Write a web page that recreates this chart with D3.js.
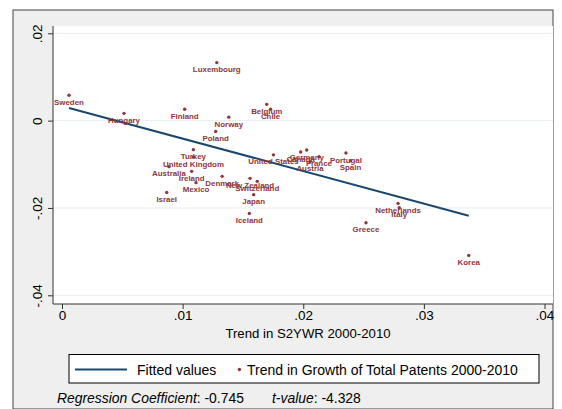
<!DOCTYPE html>
<html><head><meta charset="utf-8">
<script src="https://cdn.jsdelivr.net/npm/d3@7"></script>
<style>
body{margin:0;background:#fff;}
svg{display:block;font-family:"Liberation Sans",Arial,sans-serif;}
</style></head>
<body>
<svg id="c" width="562" height="409"></svg>
<script>
// ---- data ----
const countries = ["Sweden","Hungary","Finland","Luxembourg","Norway","Poland","Belgium","Chile",
  "Turkey","United Kingdom","Australia","Ireland","Mexico","Israel","Denmark","New Zealand",
  "Switzerland","Japan","Iceland","United States","Canada","Germany","France","Austria",
  "Portugal","Spain","Netherlands","Italy","Greece","Korea"];
const s2ywrTrend = [0.00058,0.00514,0.01017,0.01283,0.01383,0.01274,0.01697,0.01729,
  0.01089,0.01090,0.00887,0.01075,0.01111,0.00868,0.01328,0.01559,
  0.01619,0.01589,0.01553,0.01753,0.01979,0.02029,0.02131,0.02056,
  0.02354,0.02392,0.02786,0.02796,0.02520,0.03372];
const patentTrend = [0.0058,0.00167,0.00259,0.01329,0.0008,-0.00247,0.00373,0.00263,
  -0.00664,-0.00836,-0.01054,-0.01161,-0.0142,-0.01643,-0.01276,-0.01322,
  -0.01391,-0.01695,-0.02124,-0.00784,-0.00717,-0.00671,-0.00825,-0.00939,
  -0.0074,-0.00916,-0.01895,-0.01993,-0.02337,-0.03086];
const fittedX = [0.00058, 0.03372];
const fittedY = [0.00291, -0.02178];
const xTicks = [0, 0.01, 0.02, 0.03, 0.04];
const xTickLabels = ["0", ".01", ".02", ".03", ".04"];
const yTicks = [0.02, 0, -0.02, -0.04];
const yTickLabels = [".02", "0", "-.02", "-.04"];
const xTitle = "Trend in S2YWR 2000-2010";
const legendLabels = ["Fitted values", "Trend in Growth of Total Patents 2000-2010"];
const regCoef = "-0.745", tValue = "-4.328";

// ---- drawing ----
const navy = "#1A476F", maroon = "#90353B";
const svg = d3.select("#c");
const plot = {l:53, r:553, t:26, b:304};
const x = d3.scaleLinear().domain([0,0.04]).range([62,544.5]);
const y = d3.scaleLinear().domain([0.02,-0.04]).range([33.3,295.3]);

// graph region
svg.append("rect").attr("x",13).attr("y",10).attr("width",540).attr("height",399)
  .attr("fill","#efefef").attr("stroke","#444").attr("stroke-width",1);
// plot region
svg.append("rect").attr("x",plot.l).attr("y",plot.t).attr("width",plot.r-plot.l).attr("height",plot.b-plot.t)
  .attr("fill","#fff");
// gridlines
svg.append("g").selectAll("line").data(yTicks).join("line")
  .attr("x1",plot.l).attr("x2",plot.r).attr("y1",d=>y(d)).attr("y2",d=>y(d))
  .attr("stroke","#e6eef0").attr("stroke-width",1);

// axes
const yAxis = d3.axisLeft(y).tickValues(yTicks).tickFormat((d,i)=>yTickLabels[i]).tickSize(5).tickPadding(3);
const gy = svg.append("g").attr("transform",`translate(${plot.l},0)`).call(yAxis);
gy.select(".domain").attr("d",`M0,${plot.t}V${plot.b}`).attr("stroke","#333");
gy.selectAll(".tick line").attr("stroke","#333");
gy.selectAll(".tick text").attr("font-size",13.5).attr("fill","#000").attr("font-family","Liberation Sans, Arial, sans-serif")
  .attr("text-anchor","middle").attr("transform","rotate(-90)").attr("x",0).attr("y",-11).attr("dy",0);

const xAxis = d3.axisBottom(x).tickValues(xTicks).tickFormat((d,i)=>xTickLabels[i]).tickSize(5).tickPadding(3);
const gx = svg.append("g").attr("transform",`translate(0,${plot.b})`).call(xAxis);
gx.select(".domain").attr("d",`M${plot.l},0H${plot.r}`).attr("stroke","#333");
gx.selectAll(".tick line").attr("stroke","#333");
gx.selectAll(".tick text").attr("font-size",13.5).attr("fill","#000").attr("font-family","Liberation Sans, Arial, sans-serif")
  .attr("y",16).attr("dy",0);

svg.append("text").attr("x",308).attr("y",338).attr("text-anchor","middle")
  .attr("font-size",13.2).text(xTitle);

// fitted line
svg.append("path").datum(fittedX.map((v,i)=>[v,fittedY[i]]))
  .attr("d",d3.line().x(d=>x(d[0])).y(d=>y(d[1])))
  .attr("stroke",navy).attr("stroke-width",2).attr("fill","none");

// points & labels
const pts = countries.map((c,i)=>({c, xv:s2ywrTrend[i], yv:patentTrend[i]}));
svg.append("g").selectAll("circle").data(pts).join("circle")
  .attr("cx",d=>x(d.xv)).attr("cy",d=>y(d.yv)).attr("r",1.7).attr("fill",maroon);
svg.append("g").selectAll("text").data(pts).join("text")
  .attr("x",d=>x(d.xv)).attr("y",d=>y(d.yv)+9.6).attr("text-anchor","middle")
  .attr("font-size",7.9).attr("font-weight","bold").attr("fill",maroon).text(d=>d.c);

// legend
const lg = svg.append("g");
lg.append("rect").attr("x",69).attr("y",354.5).attr("width",470).attr("height",28.5)
  .attr("fill","#fff").attr("stroke","#000").attr("stroke-width",1);
lg.append("line").attr("x1",75).attr("x2",127).attr("y1",369.5).attr("y2",369.5)
  .attr("stroke",navy).attr("stroke-width",2);
lg.append("text").attr("x",137).attr("y",374.5).attr("font-size",14).text(legendLabels[0]);
lg.append("circle").attr("cx",239.4).attr("cy",369.5).attr("r",1.7).attr("fill",maroon);
lg.append("text").attr("x",247).attr("y",374.5).attr("font-size",14).text(legendLabels[1]);

// note
const note = svg.append("text").attr("x",57).attr("y",403).attr("font-size",13.9);
note.append("tspan").attr("font-style","italic").text("Regression Coefficient");
note.append("tspan").text(": " + regCoef);
const note2 = svg.append("text").attr("x",272).attr("y",403).attr("font-size",13.9);
note2.append("tspan").attr("font-style","italic").text("t-value");
note2.append("tspan").text(": " + tValue);
</script>
</body></html>
